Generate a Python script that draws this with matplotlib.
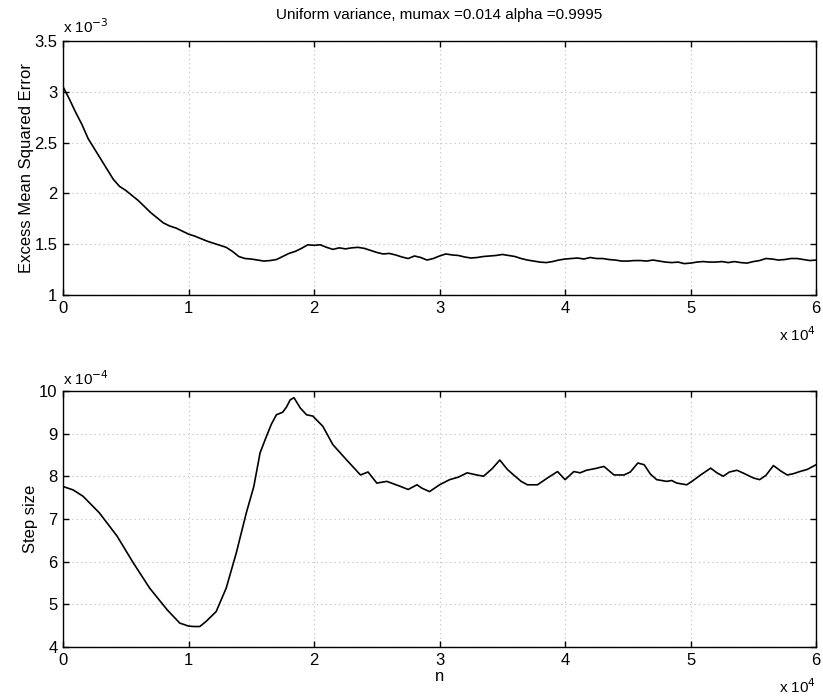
import numpy as np
import matplotlib
matplotlib.use("Agg")
import matplotlib.pyplot as plt

plt.rcParams['font.family'] = ['Liberation Sans', 'DejaVu Sans']

# top panel: excess MSE (x in units of 1e4, y in units of 1e-3)
emse_n = [0.00, 0.05, 0.10, 0.15, 0.20, 0.25, 0.30, 0.35, 0.40, 0.45,
          0.50, 0.55, 0.60, 0.65, 0.70, 0.75, 0.80, 0.85, 0.90, 0.95,
          1.00, 1.05, 1.10, 1.15, 1.20, 1.25, 1.30, 1.35, 1.40, 1.45,
          1.50, 1.55, 1.60, 1.65, 1.70, 1.75, 1.80, 1.85, 1.90, 1.95,
          2.00, 2.05, 2.10, 2.15, 2.20, 2.25, 2.30, 2.35, 2.40, 2.45,
          2.50, 2.55, 2.60, 2.65, 2.70, 2.75, 2.80, 2.85, 2.90, 2.95,
          3.00, 3.05, 3.10, 3.15, 3.20, 3.25, 3.30, 3.35, 3.40, 3.45,
          3.50, 3.55, 3.60, 3.65, 3.70, 3.75, 3.80, 3.85, 3.90, 3.95,
          4.00, 4.05, 4.10, 4.15, 4.20, 4.25, 4.30, 4.35, 4.40, 4.45,
          4.50, 4.55, 4.60, 4.65, 4.70, 4.75, 4.80, 4.85, 4.90, 4.95,
          5.00, 5.05, 5.10, 5.15, 5.20, 5.25, 5.30, 5.35, 5.40, 5.45,
          5.50, 5.55, 5.60, 5.65, 5.70, 5.75, 5.80, 5.85, 5.90, 5.95, 6.00]
emse = [3.05, 2.93, 2.80, 2.68, 2.54, 2.44, 2.34, 2.24, 2.14, 2.07,
        2.03, 1.98, 1.93, 1.87, 1.81, 1.76, 1.71, 1.68, 1.66, 1.63,
        1.60, 1.58, 1.555, 1.53, 1.51, 1.49, 1.47, 1.43, 1.38, 1.36,
        1.355, 1.345, 1.335, 1.34, 1.35, 1.38, 1.41, 1.43, 1.46, 1.495,
        1.49, 1.495, 1.47, 1.45, 1.465, 1.455, 1.465, 1.47, 1.46, 1.44,
        1.42, 1.405, 1.41, 1.395, 1.375, 1.36, 1.385, 1.37, 1.345, 1.36,
        1.385, 1.405, 1.395, 1.39, 1.375, 1.365, 1.37, 1.38, 1.385, 1.39,
        1.40, 1.39, 1.38, 1.36, 1.345, 1.335, 1.325, 1.32, 1.33, 1.345,
        1.355, 1.36, 1.365, 1.355, 1.37, 1.36, 1.36, 1.35, 1.345, 1.335,
        1.335, 1.34, 1.34, 1.335, 1.345, 1.335, 1.325, 1.32, 1.325, 1.31,
        1.315, 1.325, 1.33, 1.325, 1.325, 1.33, 1.32, 1.33, 1.32, 1.315,
        1.33, 1.34, 1.36, 1.355, 1.345, 1.35, 1.36, 1.36, 1.35, 1.34, 1.345]

# bottom panel: step size (x in units of 1e4, y in units of 1e-4)
step_n = [0.00, 0.08, 0.16, 0.29, 0.43, 0.56, 0.69, 0.83, 0.93, 1.00,
          1.04, 1.09, 1.14, 1.22, 1.30, 1.38, 1.46, 1.52, 1.57, 1.62,
          1.66, 1.70, 1.75, 1.78, 1.81, 1.84, 1.89, 1.94, 1.99, 2.07,
          2.15, 2.26, 2.37, 2.43, 2.50, 2.58, 2.69, 2.75, 2.82, 2.86,
          2.92, 3.00, 3.08, 3.15, 3.22, 3.28, 3.35, 3.42, 3.48, 3.54,
          3.59, 3.65, 3.70, 3.78, 3.86, 3.94, 4.00, 4.07, 4.12, 4.17,
          4.24, 4.31, 4.39, 4.47, 4.52, 4.58, 4.63, 4.68, 4.73, 4.81,
          4.85, 4.89, 4.93, 4.97, 5.02, 5.08, 5.16, 5.21, 5.26, 5.31,
          5.37, 5.43, 5.50, 5.55, 5.60, 5.66, 5.72, 5.77, 5.82, 5.87,
          5.93, 6.00]
step = [7.76, 7.68, 7.53, 7.14, 6.60, 5.97, 5.38, 4.87, 4.56, 4.49,
        4.48, 4.48, 4.60, 4.83, 5.38, 6.20, 7.14, 7.76, 8.55, 8.93,
        9.22, 9.44, 9.50, 9.62, 9.79, 9.84, 9.60, 9.44, 9.41, 9.17,
        8.74, 8.38, 8.03, 8.10, 7.84, 7.88, 7.76, 7.69, 7.80, 7.72,
        7.64, 7.80, 7.92, 7.98, 8.08, 8.04, 8.00, 8.18, 8.38, 8.16,
        8.03, 7.88, 7.80, 7.80, 7.96, 8.11, 7.92, 8.11, 8.08, 8.14,
        8.18, 8.23, 8.03, 8.03, 8.10, 8.31, 8.27, 8.05, 7.92, 7.88,
        7.90, 7.84, 7.82, 7.80, 7.90, 8.03, 8.19, 8.08, 8.00, 8.10,
        8.14, 8.06, 7.96, 7.92, 8.02, 8.25, 8.12, 8.03, 8.06, 8.11,
        8.16, 8.27]

title = "Uniform variance, mumax =0.014 alpha =0.9995"

fig = plt.figure(figsize=(8.23, 6.96), dpi=100)
ax1 = fig.add_axes([0.0766, 0.576, 0.915, 0.365])
ax2 = fig.add_axes([0.0766, 0.0704, 0.915, 0.368])


def style(ax, ylim, yticks):
    ax.set_xlim(0, 6)
    ax.set_ylim(*ylim)
    ax.set_xticks(range(7))
    ax.set_yticks(yticks)
    ax.tick_params(direction='in', top=True, right=True, length=4,
                   labelsize=12, width=1, pad=4)
    ax.grid(True, linestyle=(0, (1, 3)), color='#bdbdbd', linewidth=0.8)
    for s in ax.spines.values():
        s.set_linewidth(1.0)


ax1.plot(emse_n, emse, color='black', linewidth=1.2)
style(ax1, (1, 3.5), [1, 1.5, 2, 2.5, 3, 3.5])
ax1.set_yticklabels(['1', '1.5', '2', '2.5', '3', '3.5'])
ax1.set_ylabel("Excess Mean Squared Error", fontsize=12, labelpad=0)
ax1.set_title(title, fontsize=11, pad=16)
ax1.text(0.0, 1.02, r'x 10$^{-3}$', transform=ax1.transAxes, fontsize=11,
         ha='left', va='bottom')
ax1.text(1.0, -0.12, r'x 10$^{4}$', transform=ax1.transAxes, fontsize=11,
         ha='right', va='top')

ax2.plot(step_n, step, color='black', linewidth=1.2)
style(ax2, (4, 10), [4, 5, 6, 7, 8, 9, 10])
ax2.set_ylabel("Step size", fontsize=12, labelpad=1)
ax2.set_xlabel("n", fontsize=12, labelpad=1)
ax2.text(0.0, 1.01, r'x 10$^{-4}$', transform=ax2.transAxes, fontsize=11,
         ha='left', va='bottom')
ax2.text(1.0, -0.12, r'x 10$^{4}$', transform=ax2.transAxes, fontsize=11,
         ha='right', va='top')

plt.savefig("out.png", dpi=100)
